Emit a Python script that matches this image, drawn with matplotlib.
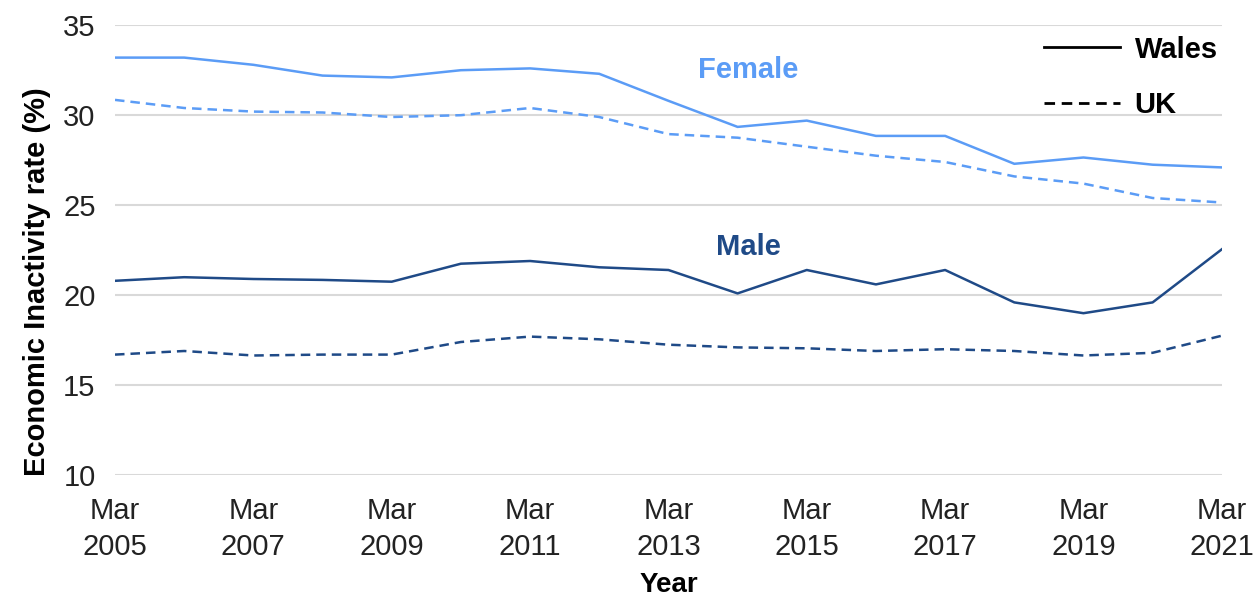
import matplotlib.pyplot as plt
from matplotlib.lines import Line2D

plt.rcParams['font.family'] = ['Liberation Sans', 'DejaVu Sans']

years = list(range(2005, 2022))
female_wales = [33.2, 33.2, 32.8, 32.2, 32.1, 32.5, 32.6, 32.3, 30.8, 29.35, 29.7,
                28.85, 28.85, 27.3, 27.65, 27.25, 27.1]
female_uk = [30.85, 30.4, 30.2, 30.15, 29.9, 30.0, 30.4, 29.9, 28.95, 28.75, 28.25,
             27.75, 27.4, 26.6, 26.2, 25.4, 25.15]
male_wales = [20.8, 21.0, 20.9, 20.85, 20.75, 21.75, 21.9, 21.55, 21.4, 20.1, 21.4,
              20.6, 21.4, 19.6, 19.0, 19.6, 22.55]
male_uk = [16.7, 16.9, 16.65, 16.7, 16.7, 17.4, 17.7, 17.55, 17.25, 17.1, 17.05,
           16.9, 17.0, 16.9, 16.65, 16.8, 17.75]
tick_years = list(range(2005, 2022, 2))
tick_labels = ['Mar\n%d' % y for y in tick_years]

FEMALE_COLOR = '#5b9cf6'
MALE_COLOR = '#1f4a87'

fig = plt.figure(figsize=(12.57, 6), dpi=100)
ax = fig.add_axes([0.0915, 0.208, 0.8805, 0.75])

dash = (0, (3.8, 2.4))
ax.plot(years, female_wales, color=FEMALE_COLOR, lw=1.8)
ax.plot(years, female_uk, color=FEMALE_COLOR, lw=1.8, linestyle=dash)
ax.plot(years, male_wales, color=MALE_COLOR, lw=1.8)
ax.plot(years, male_uk, color=MALE_COLOR, lw=1.8, linestyle=dash)

ax.set_xlim(2005, 2021)
ax.set_ylim(10, 35)
ax.set_yticks(range(10, 36, 5))
ax.set_xticks(tick_years)
ax.set_xticklabels(tick_labels, linespacing=1.35)
ax.tick_params(axis='both', length=0, labelsize=21, colors='#222222')
ax.tick_params(axis='x', pad=16)
ax.tick_params(axis='y', pad=14)
ax.grid(axis='y', color='#d9d9d9', lw=1.5)
ax.set_axisbelow(True)
for s in ax.spines.values():
    s.set_visible(False)

ax.set_xlabel('Year', fontsize=20, fontweight='bold', labelpad=8)
ax.set_ylabel('Economic Inactivity rate (%)', fontsize=21, fontweight='bold')
ax.yaxis.set_label_coords(-0.058, 0.43)

ax.text(2014.15, 32.5, 'Female', color=FEMALE_COLOR, fontsize=21, fontweight='bold',
        ha='center', va='center')
ax.text(2014.15, 22.7, 'Male', color=MALE_COLOR, fontsize=21, fontweight='bold',
        ha='center', va='center')

handles = [Line2D([], [], color='black', lw=2),
           Line2D([], [], color='black', lw=2, linestyle=dash)]
leg = ax.legend(handles, ['Wales', 'UK'], loc='upper right', frameon=False,
                prop={'size': 21, 'weight': 'bold'}, handlelength=2.6,
                handletextpad=0.5, labelspacing=0.95, bbox_to_anchor=(1.02, 1.035))

fig.savefig('out.png', dpi=100)
